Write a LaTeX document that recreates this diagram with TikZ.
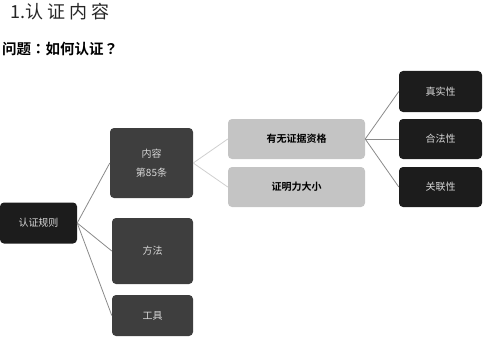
\documentclass[tikz,border=0pt]{standalone}
\usepackage{fontspec}
\newfontfamily\cjk{Noto Sans CJK SC}
\newfontfamily\cjkb{Noto Sans CJK SC Bold}
\newfontfamily\cjktcb{Noto Sans CJK TC Bold}
\definecolor{darkbox}{HTML}{3E3E3E}
\definecolor{blackbox}{HTML}{1C1C1C}
\definecolor{lightbox}{HTML}{C4C4C4}
\definecolor{boxtext}{HTML}{D8D8D8}
\definecolor{linegray}{HTML}{8A8A8A}
\definecolor{linelight}{HTML}{CFCFCF}
\begin{document}
\begin{tikzpicture}[x=1pt,y=-1pt,
  box/.style={rounded corners=4pt, inner sep=0pt, text=boxtext, font=\cjk\fontsize{10}{14}\selectfont, align=center},
  dbox/.style={box, fill=darkbox},
  bbox/.style={box, fill=blackbox},
  lbox/.style={box, fill=lightbox, text=black, font=\cjkb\fontsize{10}{14}\selectfont},
  conn/.style={draw=linegray, line width=0.8pt},
  connl/.style={draw=linelight, line width=0.8pt}]
\useasboundingbox (0,0) rectangle (490,345);
\node[anchor=west, inner sep=0pt, text=black!85, font=\cjk\fontsize{18}{20}\selectfont] (title) at (10,12) {1.认\hspace{4pt}证\hspace{4pt}内\hspace{4pt}容};
\node[anchor=west, inner sep=0pt, text=black, font=\cjkb\fontsize{14.5}{16}\selectfont] (q) at (2,49) {问题{\cjktcb ：}如何认证{\cjktcb ？}};
\node[bbox, minimum width=77pt, minimum height=41pt] (root) at (38.5,223) {认证规则};
\node[dbox, minimum width=83pt, minimum height=70pt] (nr) at (151.5,163) {内容\\[5pt]第85条};
\node[dbox, minimum width=81pt, minimum height=66pt] (ff) at (152.5,251) {方法};
\node[dbox, minimum width=81pt, minimum height=41pt] (gj) at (152.5,315.5) {工具};
\node[lbox, minimum width=137pt, minimum height=40pt] (zg) at (296.5,139) {有无证据资格};
\node[lbox, minimum width=137pt, minimum height=40pt] (zm) at (296.5,187) {证明力大小};
\node[bbox, minimum width=83pt, minimum height=41pt] (zs) at (440.5,91.5) {真实性};
\node[bbox, minimum width=83pt, minimum height=40pt] (hf) at (440.5,139) {合法性};
\node[bbox, minimum width=83pt, minimum height=40pt] (gl) at (440.5,187) {关联性};
\draw[conn] (root.east) -- (nr.west);
\draw[conn] (root.east) -- (ff.west);
\draw[conn] (root.east) -- (gj.west);
\draw[connl] (nr.east) -- (zg.west);
\draw[connl] (nr.east) -- (zm.west);
\draw[conn] (zg.east) -- (zs.west);
\draw[conn] (zg.east) -- (hf.west);
\draw[conn] (zg.east) -- (gl.west);
\end{tikzpicture}
\end{document}
